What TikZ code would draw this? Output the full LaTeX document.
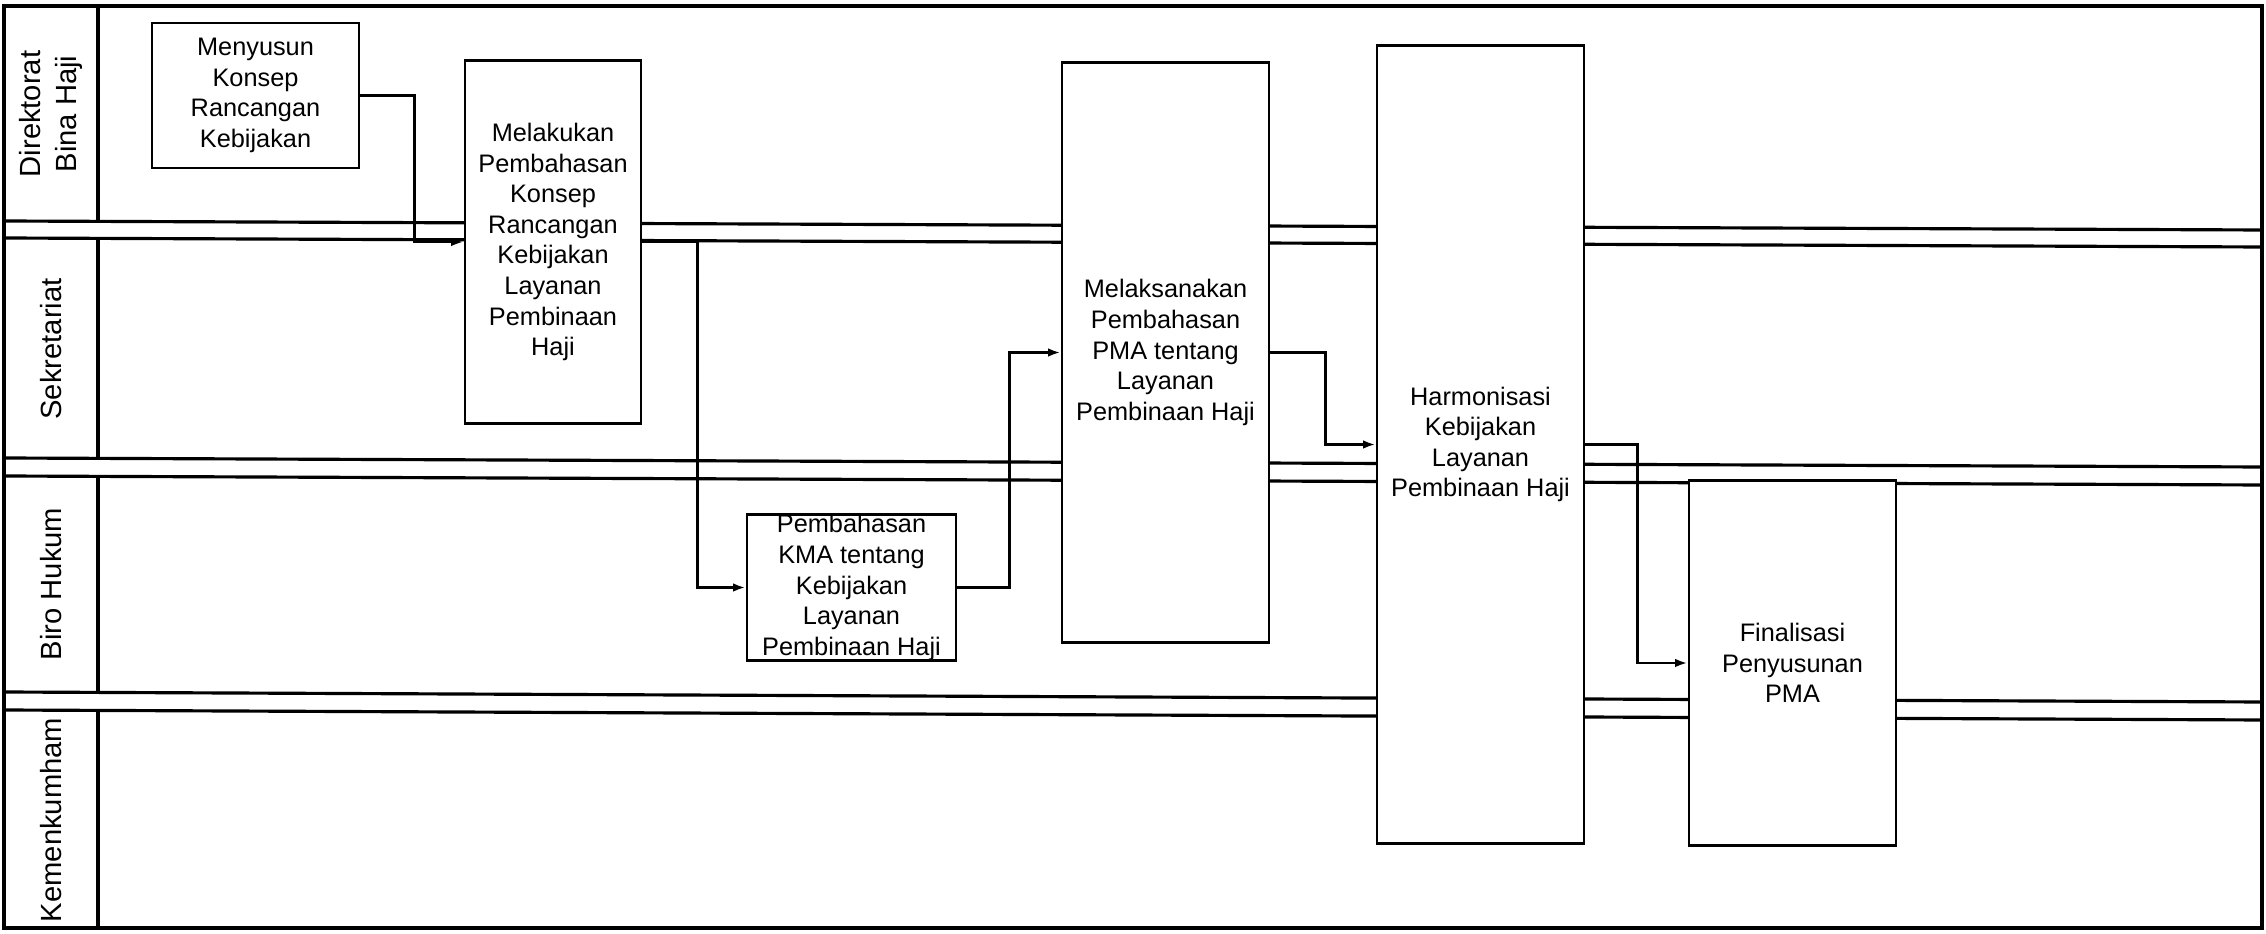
\documentclass[tikz,border=0pt]{standalone}
\usepackage{fontspec}
\setmainfont{Liberation Sans}
\usetikzlibrary{arrows.meta}
\begin{document}
\begin{tikzpicture}[x=0.01cm,y=-0.01cm,
  lane/.style={line width=0.9pt},
  box/.style={draw,line width=0.8pt,fill=white,inner sep=0pt,align=center,font=\fontsize{7.2pt}{8.7pt}\selectfont},
  lbl/.style={rotate=90,align=center,inner sep=0pt,font=\fontsize{8.3pt}{10.2pt}\selectfont},
  arr/.style={line width=0.7pt,-{Latex[length=3.5pt,width=2.4pt]}}]
\useasboundingbox (0,0) rectangle (2266,934);
\fill[white] (0,0) rectangle (2266,934);
% swimlanes
\draw[lane] (4,6) rectangle (2262,928);
\draw[lane] (4,221) -- (2262,230);
\draw[lane] (4,238) -- (2262,247);
\draw[lane] (4,458) -- (2262,467);
\draw[lane] (4,476) -- (2262,485);
\draw[lane] (4,692) -- (2262,702);
\draw[lane] (4,710) -- (2262,720);
\draw[lane] (98,6) -- (98,221) (98,238) -- (98,458) (98,476) -- (98,692) (98,710) -- (98,928);
% lane labels
\node[lbl] (L1) at (51,114) {Direktorat\\Bina Haji};
\node[lbl] (L2) at (51,349) {Sekretariat};
\node[lbl] (L3) at (51,584) {Biro Hukum};
\node[lbl] (L4) at (51,820) {Kemenkumham};
% process boxes
\node[box, minimum width=2.07cm, minimum height=1.45cm] (A) at (255.5,95.5) {Menyusun\\Konsep\\Rancangan\\Kebijakan};
\node[box, minimum width=1.76cm, minimum height=3.62cm] (B) at (553,242) {Melakukan\\Pembahasan\\Konsep\\Rancangan\\Kebijakan\\Layanan\\Pembinaan\\Haji};
\node[box, minimum width=2.09cm, minimum height=1.45cm] (C) at (851.5,587.5) {Pembahasan\\KMA tentang\\Kebijakan\\Layanan\\Pembinaan Haji};
\node[box, minimum width=2.07cm, minimum height=5.79cm] (D) at (1165.5,352.5) {Melaksanakan\\Pembahasan\\PMA tentang\\Layanan\\Pembinaan Haji};
\node[box, minimum width=2.07cm, minimum height=7.97cm] (E) at (1480.5,444.5) {Harmonisasi\\Kebijakan\\Layanan\\Pembinaan Haji};
\node[box, minimum width=2.07cm, minimum height=3.64cm] (F) at (1792.5,663) {Finalisasi\\Penyusunan\\PMA};
% connectors
\draw[arr] (A.east) -- ++(54,0) |- (B.west);
\draw[arr] (B.east) -- ++(55,0) |- (C.west);
\draw[arr] (C.east) -- ++(52,0) |- (D.west);
\draw[arr] (D.east) -- ++(55,0) |- (E.west);
\draw[arr] (E.east) -- ++(52,0) |- (F.west);
\end{tikzpicture}
\end{document}
